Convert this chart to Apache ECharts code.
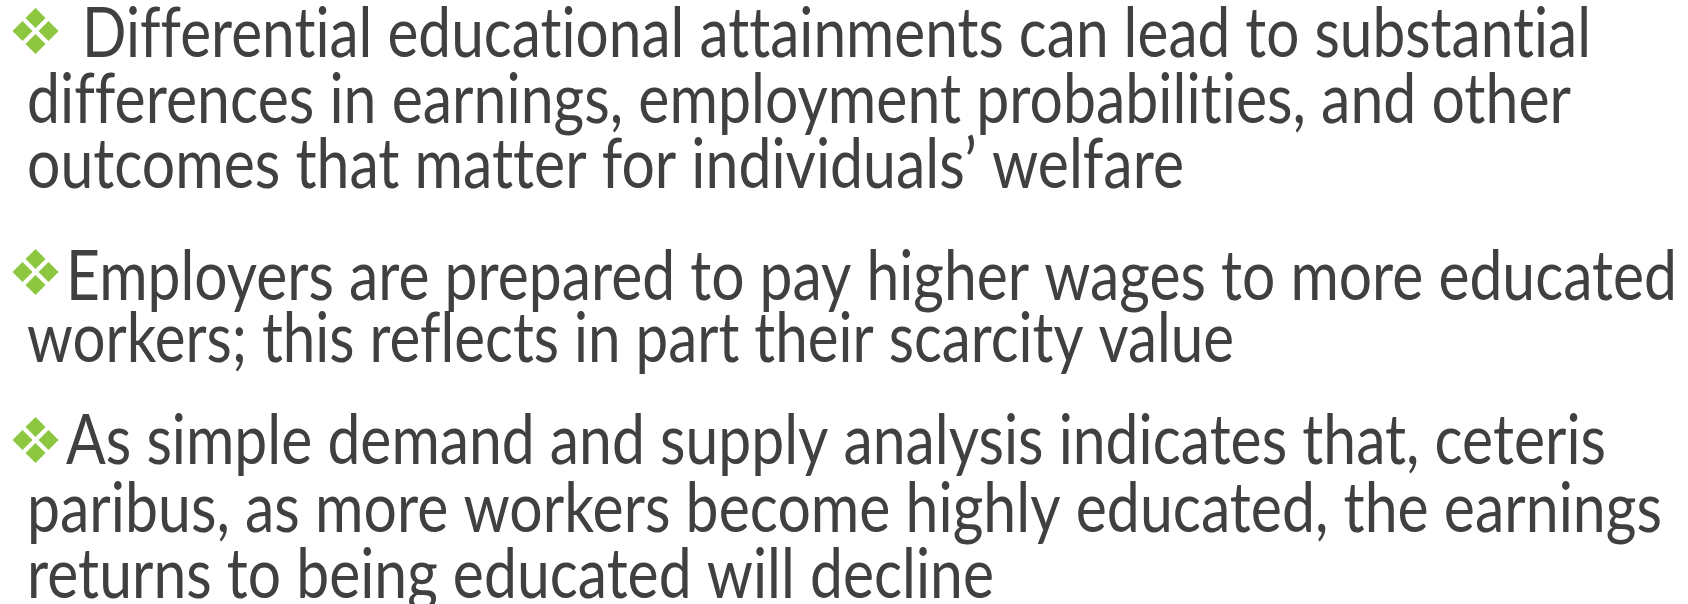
<!DOCTYPE html>
<html><head><meta charset="utf-8">
<script src="https://cdn.jsdelivr.net/npm/echarts@6/dist/echarts.min.js"></script>
<style>html,body{margin:0;padding:0;background:#fff}#c{width:1688px;height:604px}</style>
</head><body><div id="c"></div><script>
// ---- content ----
const bullet1Lines = [
  "Differential educational attainments can lead to substantial",
  "differences in earnings, employment probabilities, and other",
  "outcomes that matter for individuals’ welfare"
];
const bullet2Lines = [
  "Employers are prepared to pay higher wages to more educated",
  "workers; this reflects in part their scarcity value"
];
const bullet3Lines = [
  "As simple demand and supply analysis indicates that, ceteris",
  "paribus, as more workers become highly educated, the earnings",
  "returns to being educated will decline"
];

// ---- layout / style ----
const FONT_FAMILY = 'Lato';
const FONT_SIZE = 70;
const TEXT_COLOR = '#404040';
const BULLET_COLOR = '#8DC63F';
const LETTER_SPACING = '0.02px'; // non-zero spacing switches off ligatures (fi, ff, tt)
const layout = [
  {baselines:[57,123,188], starts:[82,27,27], ends:[1591,1571,1184], bulletY:31},
  {baselines:[300,362],    starts:[66,27],    ends:[1677,1234],      bulletY:272},
  {baselines:[464,532,598],starts:[66,27,27], ends:[1606,1662,994],  bulletY:440}
];
const paragraphs = [bullet1Lines, bullet2Lines, bullet3Lines];

// keep glyphs separate like the original (no ligatures)
const origFillText = CanvasRenderingContext2D.prototype.fillText;
CanvasRenderingContext2D.prototype.fillText = function () {
  if ('letterSpacing' in this) this.letterSpacing = LETTER_SPACING;
  return origFillText.apply(this, arguments);
};

const font = FONT_SIZE + 'px ' + FONT_FAMILY;
const cv = document.createElement('canvas').getContext('2d');
cv.font = font;
if ('letterSpacing' in cv) cv.letterSpacing = LETTER_SPACING;
cv.textBaseline = 'middle';
const midToBase = cv.measureText('H').actualBoundingBoxDescent;

const elements = [];
paragraphs.forEach((lines, p) => {
  const L = layout[p];
  // bullet: four small diamonds
  const cx = 35.5, cy = L.bulletY, off = 13, r = 10;
  [[0,-off],[-off,0],[off,0],[0,off]].forEach(([dx,dy]) => {
    const x = cx + dx, y = cy + dy;
    elements.push({
      type:'polygon',
      shape:{points:[[x,y-r],[x+r,y],[x,y+r],[x-r,y]]},
      style:{fill:BULLET_COLOR}
    });
  });
  lines.forEach((t, i) => {
    cv.textBaseline = 'alphabetic';
    const w = cv.measureText(t).width;
    const target = L.ends[i] - L.starts[i];
    elements.push({
      type:'text',
      x: L.starts[i],
      y: L.baselines[i] - midToBase,
      scaleX: target / w,
      originX: 0, originY: 0,
      style:{
        text: t, font: font, fill: TEXT_COLOR,
        align:'left', verticalAlign:'middle', lineHeight: FONT_SIZE
      }
    });
  });
});

const chart = echarts.init(document.getElementById('c'), null, {renderer:'canvas'});
chart.setOption({
  backgroundColor:'#ffffff',
  animation:false,
  graphic:{elements: elements}
});
</script></body></html>
